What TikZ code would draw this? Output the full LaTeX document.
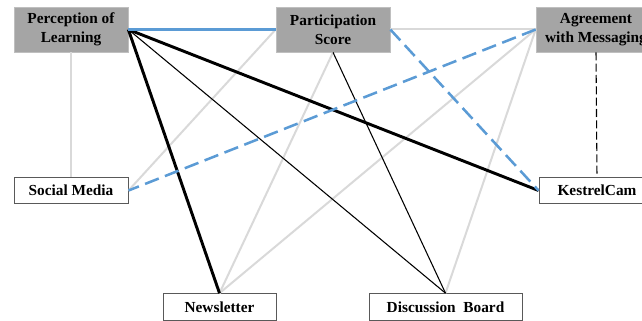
\documentclass[tikz,border=0pt]{standalone}
\usepackage{fontspec}
\setmainfont{Liberation Serif}
\usepackage{xcolor}
\definecolor{boxgray}{HTML}{A5A5A5}
\definecolor{boxedge}{HTML}{BFBFBF}
\definecolor{linegray}{HTML}{D9D9D9}
\definecolor{lineblue}{HTML}{5B9BD5}
\definecolor{framegray}{HTML}{595959}

\tikzset{
  outcome/.style={fill=boxgray, draw=boxedge, line width=0.5pt, inner sep=0pt, align=center,
    minimum height=33.75pt, font=\fontsize{11.5}{14.5}\selectfont\bfseries},
  channel/.style={fill=white, draw=framegray, line width=0.75pt, inner sep=0pt,
    minimum height=20pt, font=\fontsize{11.5}{14}\selectfont\bfseries},
  weak/.style={color=linegray, line width=1.5pt},
  thinlink/.style={color=black, line width=0.8pt},
  thicklink/.style={color=black, line width=2.2pt},
  bluelink/.style={color=lineblue, line width=1.9pt},
}

\begin{document}
\begin{tikzpicture}[x=0.75pt,y=0.75pt,yscale=-1,xscale=1]
        \useasboundingbox (0,0) rectangle (642,321);
        
        % Outcome Nodes
        \node (perc) at (71,29.5) [outcome, minimum width=85.5pt] {Perception of\\Learning};
        \node (part) at (333,29.5) [outcome, minimum width=85.5pt] {Participation\\Score};
        \node (agree) at (596,29.5) [outcome, minimum width=90pt] {Agreement\\with Messaging};
        % Channel Nodes
        \node (social) at (71,190.5) [channel, minimum width=85.5pt] {Social Media};
        \node (news) at (219.5,307) [channel, minimum width=84.75pt] {Newsletter};
        \node (disc) at (445.5,307) [channel, minimum width=114.75pt] {Discussion\ \ Board};
        \node (kestrel) at (597,190.5) [channel, minimum width=87pt] {KestrelCam};
        
        %Straight Lines (weak)
        \draw [weak] (perc.south) -- (social.north) ;
        \draw [weak] (part.west) -- (social.east) ;
        \draw [weak] (part.south) -- (news.north) ;
        \draw [weak] (part.east) -- (agree.west) ;
        \draw [weak] (agree.west) -- (news.north) ;
        \draw [weak] (agree.west) -- (disc.north) ;
        %Straight Lines (thin)
        \draw [thinlink] (perc.east) -- (disc.north) ;
        \draw [thinlink] (part.south) -- (disc.north) ;
        \draw [thinlink, dash pattern={on 6pt off 2.5pt}] (agree.south) -- (kestrel.north) ;
        %Straight Lines (thick)
        \draw [thicklink] (perc.east) -- (news.north) ;
        \draw [thicklink] (perc.east) -- (kestrel.west) ;
        %Straight Lines (blue)
        \draw [bluelink] (perc.east) -- (part.west) ;
        \draw [bluelink, dash pattern={on 11pt off 5pt}] (part.east) -- (kestrel.west) ;
        \draw [bluelink, dash pattern={on 11pt off 5pt}] (agree.west) -- (social.east) ;
        
\end{tikzpicture}
\end{document}
